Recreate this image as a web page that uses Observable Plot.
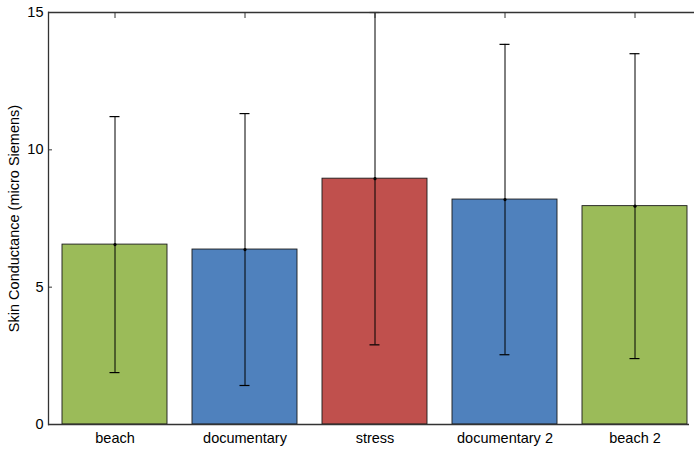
<!DOCTYPE html>
<html>
<head>
<meta charset="utf-8">
<script src="https://cdn.jsdelivr.net/npm/d3@7"></script>
<script src="https://cdn.jsdelivr.net/npm/@observablehq/plot@0.6"></script>
<style>
  html, body { margin: 0; padding: 0; background: #fff; }
</style>
</head>
<body>
<div id="chart"></div>
<script>
const categories = ["beach", "documentary", "stress", "documentary 2", "beach 2"];
const means = [6.55, 6.37, 8.95, 8.19, 7.95];
const errors = [4.66, 4.95, 6.05, 5.65, 5.55];
const colors = ["#9BBB59", "#4F81BD", "#C0504D", "#4F81BD", "#9BBB59"];
const yTicks = [0, 5, 10, 15];

const data = categories.map((c, i) => ({
  cat: c, mean: means[i], lo: means[i] - errors[i], hi: Math.min(15, means[i] + errors[i]), color: colors[i]
}));

const axisColor = "#333";

const chart = Plot.plot({
  width: 694,
  height: 449,
  marginLeft: 48,
  marginRight: 5,
  marginTop: 12,
  marginBottom: 25,
  style: { fontFamily: "Liberation Sans, Arial, sans-serif", fontSize: "14.5px", color: "#000", background: "#fff" },
  x: { type: "band", domain: categories, range: [48, 701.5], paddingInner: 0.196, paddingOuter: 0.1, label: null },
  y: { domain: [0, 15], label: null },
  marks: [
    Plot.barY(data, { x: "cat", y: "mean", fill: "color", stroke: "#1a1a1a", strokeWidth: 0.9 }),
    Plot.ruleX(data, { x: "cat", y1: "lo", y2: "hi", stroke: "#000", strokeWidth: 1 }),
    Plot.tickY(data, { x: "cat", y: "lo", stroke: "#000", strokeWidth: 1.2, insetLeft: 47.5, insetRight: 47.5 }),
    Plot.tickY(data, { x: "cat", y: "hi", stroke: "#000", strokeWidth: 1.2, insetLeft: 47.5, insetRight: 47.5 }),
    Plot.dot(data, { x: "cat", y: "mean", r: 1.6, fill: "#000" }),
    Plot.ruleY([0], { stroke: axisColor, strokeWidth: 1.3 }),
    Plot.ruleY([15], { stroke: axisColor, strokeWidth: 1.3, insetRight: -5 }),
    Plot.frame({ anchor: "left", stroke: axisColor, strokeWidth: 1.3 }),
    Plot.ruleY(yTicks, { stroke: axisColor, strokeWidth: 1, insetRight: 637 }),
    Plot.ruleX(categories, { x: d => d, y1: 15, y2: 15, stroke: axisColor, strokeWidth: 1, insetBottom: -6 }),
    Plot.axisY({ ticks: yTicks, tickSize: 0, tickPadding: 5, tickFormat: d => d,
      label: "Skin Conductance (micro Siemens)", labelAnchor: "center", labelArrow: "none", labelOffset: 40 }),
    Plot.axisX({ anchor: "bottom", tickSize: 0, tickPadding: 8, label: null })
  ]
});
document.getElementById("chart").appendChild(chart);
</script>
</body>
</html>
